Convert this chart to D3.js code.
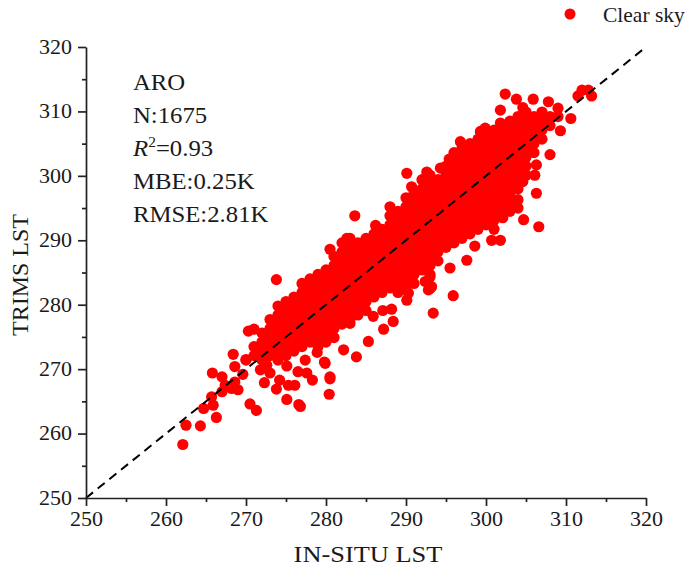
<!DOCTYPE html>
<html>
<head>
<meta charset="utf-8">
<script src="https://cdn.jsdelivr.net/npm/d3@7"></script>
<style>
  body { margin: 0; background: #fff; }
  svg text { font-family: "Liberation Serif", "Times New Roman", serif; fill: #1a1a1a; }
  .wide { transform-box: fill-box; transform: scaleX(1.1); }
</style>
</head>
<body>
<svg id="chart" width="692" height="579"></svg>
<script>
// axis ticks
const majorTicks = [250, 260, 270, 280, 290, 300, 310, 320];
const minorTicks = [255, 265, 275, 285, 295, 305, 315];

// stats shown in the top-left corner
const statLines = ["ARO", "N:1675", "R2", "MBE:0.25K", "RMSE:2.81K"];
const r2Value = "=0.93";

// dense part of the cloud, read column by column: [in-situ, trims values...]
const denseColumns = [
    [270, 271.4],
    [271, 272.1, 273.5],
    [272, 271.4, 272.8, 274.2, 275.6],
    [273, 272.1, 273.5, 274.9, 276.3, 277.7],
    [274, 271.4, 272.8, 274.2, 275.6, 277.0, 278.4, 279.8],
    [275, 272.1, 273.5, 274.9, 276.3, 277.7, 279.1, 280.5],
    [276, 272.8, 274.2, 275.6, 277.0, 278.4, 279.8, 281.2],
    [277, 273.5, 274.9, 276.3, 277.7, 279.1, 280.5, 281.9, 283.3],
    [278, 274.2, 275.6, 277.0, 278.4, 279.8, 281.2, 282.6, 284.0],
    [279, 273.5, 274.9, 276.3, 277.7, 279.1, 280.5, 281.9, 283.3, 284.7],
    [280, 274.2, 275.6, 277.0, 278.4, 279.8, 281.2, 282.6, 284.0, 285.4],
    [281, 274.9, 276.3, 277.7, 279.1, 280.5, 281.9, 283.3, 284.7, 286.1, 287.5],
    [282, 277.0, 278.4, 279.8, 281.2, 282.6, 284.0, 285.4, 286.8, 288.2, 289.6],
    [283, 277.7, 279.1, 280.5, 281.9, 283.3, 284.7, 286.1, 287.5, 288.9, 290.3],
    [284, 278.4, 279.8, 281.2, 282.6, 284.0, 285.4, 286.8, 288.2, 289.6],
    [285, 279.1, 280.5, 281.9, 283.3, 284.7, 286.1, 287.5, 288.9, 290.3],
    [286, 281.2, 282.6, 284.0, 285.4, 286.8, 288.2, 289.6, 291.0],
    [287, 281.9, 283.3, 284.7, 286.1, 287.5, 288.9, 290.3, 291.7],
    [288, 282.6, 284.0, 285.4, 286.8, 288.2, 289.6, 291.0, 292.4, 293.8],
    [289, 281.9, 283.3, 284.7, 286.1, 287.5, 288.9, 290.3, 291.7, 293.1, 294.5],
    [290, 282.6, 284.0, 285.4, 286.8, 288.2, 289.6, 291.0, 292.4, 293.8, 295.2, 296.6],
    [291, 283.3, 284.7, 286.1, 287.5, 288.9, 290.3, 291.7, 293.1, 294.5, 295.9, 297.3],
    [292, 285.4, 286.8, 288.2, 289.6, 291.0, 292.4, 293.8, 295.2, 296.6, 298.0, 299.4],
    [293, 284.7, 286.1, 287.5, 288.9, 290.3, 291.7, 293.1, 294.5, 295.9, 297.3, 298.7, 300.1],
    [294, 286.8, 288.2, 289.6, 291.0, 292.4, 293.8, 295.2, 296.6, 298.0, 299.4],
    [295, 288.9, 290.3, 291.7, 293.1, 294.5, 295.9, 297.3, 298.7, 300.1, 301.5],
    [296, 289.6, 291.0, 292.4, 293.8, 295.2, 296.6, 298.0, 299.4, 300.8, 302.2, 303.6],
    [297, 290.3, 291.7, 293.1, 294.5, 295.9, 297.3, 298.7, 300.1, 301.5, 302.9, 304.3],
    [298, 291.0, 292.4, 293.8, 295.2, 296.6, 298.0, 299.4, 300.8, 302.2, 303.6, 305.0],
    [299, 291.7, 293.1, 294.5, 295.9, 297.3, 298.7, 300.1, 301.5, 302.9, 304.3, 305.7],
    [300, 292.4, 293.8, 295.2, 296.6, 298.0, 299.4, 300.8, 302.2, 303.6, 305.0, 306.4],
    [301, 291.7, 293.1, 294.5, 295.9, 297.3, 298.7, 300.1, 301.5, 302.9, 304.3, 305.7, 307.1],
    [302, 293.8, 295.2, 296.6, 298.0, 299.4, 300.8, 302.2, 303.6, 305.0, 306.4, 307.8],
    [303, 294.5, 295.9, 297.3, 298.7, 300.1, 301.5, 302.9, 304.3, 305.7, 307.1, 308.5],
    [304, 298.0, 299.4, 300.8, 302.2, 303.6, 305.0, 306.4, 307.8, 309.2],
    [305, 300.1, 301.5, 302.9, 304.3, 305.7, 307.1, 308.5, 309.9],
    [306, 303.6, 305.0, 306.4, 307.8, 309.2],
    [307, 305.7, 307.1, 308.5, 309.9],
    [308, 307.8, 309.2],
    [309, 309.2]
];

// scattered points around the cloud: [in-situ, trims]
const sparsePoints = [
    // lower left tail
    [262.1, 258.3], [262.5, 261.3], [264.3, 261.2], [266.3, 262.5], [264.7, 263.9],
    [265.9, 264.4], [265.7, 265.7], [265.8, 269.4], [267.0, 268.8], [267.4, 267.5],
    [267.0, 266.5], [268.2, 267.0], [269.0, 266.8], [268.6, 268.0], [268.4, 272.3],
    [268.6, 270.4], [269.6, 269.2], [270.0, 271.5], [270.5, 264.6], [271.3, 263.6],
    [270.3, 275.9], [271.0, 276.2], [275.1, 265.3], [276.6, 264.5], [276.8, 264.2],
    [272.3, 267.9], [273.8, 266.9], [274.2, 268.3], [275.1, 270.5], [275.3, 267.5],
    [276.1, 267.5], [276.5, 269.6], [277.6, 269.4], [278.3, 268.3], [277.4, 271.4],
    [279.8, 271.1], [280.5, 268.5], [280.4, 266.1], [273.0, 269.4], [271.8, 269.9],
    [273.1, 273.7], [273.8, 283.9], [272.6, 270.6], [278.9, 272.6],
    // below the band
    [283.8, 271.9], [285.3, 274.3], [288.4, 277.4], [288.2, 279.3], [287.1, 279.1],
    [287.2, 276.2], [292.8, 282.3], [290.3, 281.8], [293.4, 278.7], [295.9, 281.4],
    [282.2, 273.0], [279.9, 270.9], [280.5, 268.8], [283.0, 277.1], [293.0, 282.5],
    [292.4, 283.6], [290.1, 280.7], [291.3, 285.4], [297.6, 286.9], [295.5, 285.7],
    [293.0, 284.3], [293.2, 282.8], [300.7, 290.0], [301.8, 290.0], [285.9, 278.2],
    [298.6, 289.1],
    // above the band
    [280.5, 288.6], [283.6, 293.8], [282.6, 290.3], [288.0, 295.2], [290.1, 300.4],
    [290.7, 298.3], [292.6, 300.6], [294.3, 301.2], [296.8, 305.3], [299.3, 306.9],
    [299.9, 307.4], [301.8, 310.2], [301.8, 308.2], [302.4, 312.7], [303.8, 311.9],
    [305.9, 311.9], [307.8, 311.5], [309.0, 310.5], [311.5, 312.4], [312.0, 313.3],
    [312.8, 313.3], [313.2, 312.4], [310.6, 308.9], [309.3, 307.0], [286.2, 292.3],
    [295.4, 302.6], [304.6, 310.6],
    // right side of the upper band
    [308.0, 303.3], [306.3, 301.7], [306.1, 300.1], [306.3, 297.3], [304.6, 299.1],
    [304.0, 295.0], [304.0, 296.3], [304.7, 293.2], [306.6, 292.1], [302.1, 293.5]
];

const svg = d3.select("#chart");

const x = d3.scaleLinear().domain([250, 320]).range([86, 646]);
const y = d3.scaleLinear().domain([250, 320]).range([498, 47]);

const points = [];
denseColumns.forEach(col => {
    col.slice(1).forEach(v => points.push([col[0], v]));
});
sparsePoints.forEach(p => points.push(p));

svg.append("g")
    .selectAll("circle")
    .data(points)
    .join("circle")
    .attr("cx", d => x(d[0]))
    .attr("cy", d => y(d[1]))
    .attr("r", 5.6)
    .attr("fill", "#ff0000");

// 1:1 line
svg.append("line")
    .attr("x1", x(250)).attr("y1", y(250))
    .attr("x2", x(320)).attr("y2", y(320))
    .attr("stroke", "#000")
    .attr("stroke-width", 2)
    .attr("stroke-dasharray", "9,6");

//axes, major then minor ticks
const xAxis = svg.append("g").attr("transform", `translate(0,${y(250)})`)
    .call(d3.axisBottom(x).tickValues(majorTicks).tickSize(8).tickSizeOuter(0).tickPadding(6));
svg.append("g").attr("transform", `translate(0,${y(250)})`)
    .call(d3.axisBottom(x).tickValues(minorTicks).tickSize(4).tickFormat(""))
    .select(".domain").remove();

const yAxis = svg.append("g").attr("transform", `translate(${x(250)},0)`)
    .call(d3.axisLeft(y).tickValues(majorTicks).tickSize(8).tickSizeOuter(0).tickPadding(6));
svg.append("g").attr("transform", `translate(${x(250)},0)`)
    .call(d3.axisLeft(y).tickValues(minorTicks).tickSize(4).tickFormat(""))
    .select(".domain").remove();

svg.selectAll("g").attr("font-family", null);
svg.selectAll(".domain, .tick line").attr("stroke", "#222").attr("stroke-width", 1.7);
xAxis.selectAll("text").attr("font-size", 20)
    .attr("class", "wide").style("transform-origin", "center");
yAxis.selectAll("text").attr("font-size", 20)
    .attr("class", "wide").style("transform-origin", "right center");

// axis titles
svg.append("text")
    .attr("x", 368).attr("y", 562)
    .attr("text-anchor", "middle")
    .attr("font-size", 24)
    .attr("class", "wide").style("transform-origin", "center")
    .text("IN-SITU LST");

svg.append("text")
    .attr("transform", "translate(28,275) rotate(-90)")
    .attr("text-anchor", "middle")
    .attr("font-size", 24)
    .text("TRIMS LST");

// stats block
const stats = svg.append("g");
statLines.forEach((s, i) => {
    const t = stats.append("text")
        .attr("x", 133).attr("y", 90 + i * 33)
        .attr("font-size", 22.5)
        .attr("class", "wide").style("transform-origin", "left center");
    if (s === "R2") {
        t.append("tspan").attr("font-style", "italic").text("R");
        t.append("tspan").attr("font-size", 14).attr("dy", -9).text("2");
        t.append("tspan").attr("dy", 9).text(r2Value);
    } else {
        t.text(s);
    }
});

// legend
svg.append("circle").attr("cx", 570).attr("cy", 14).attr("r", 5.5).attr("fill", "#ff0000");
svg.append("text").attr("x", 603).attr("y", 22).attr("font-size", 21.5).text("Clear sky");
</script>
</body>
</html>
